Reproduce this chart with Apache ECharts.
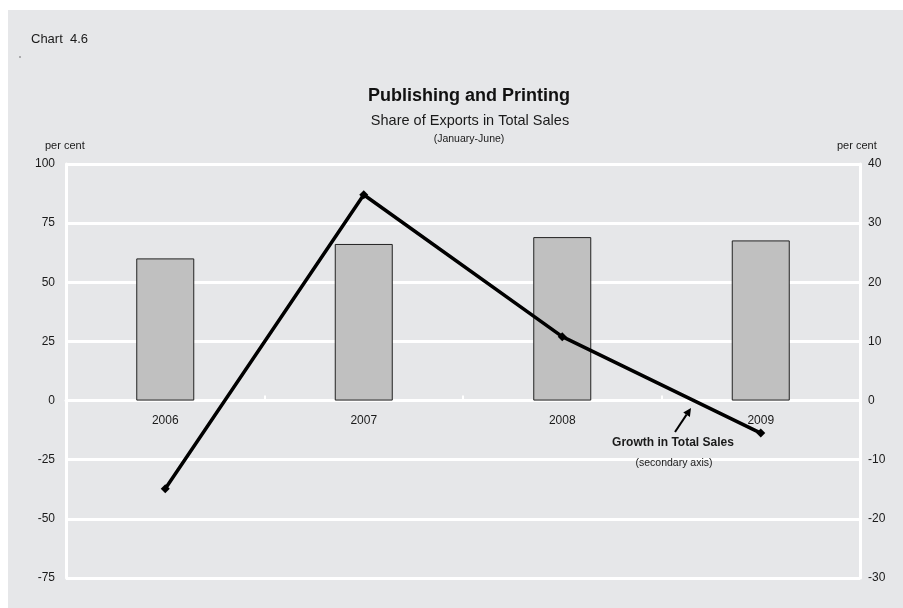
<!DOCTYPE html>
<html>
<head>
<meta charset="utf-8">
<style>
  html, body { margin: 0; padding: 0; background: #ffffff; }
  #chart { width: 903px; height: 608px; }
</style>
<script src="https://cdn.jsdelivr.net/npm/echarts@6/dist/echarts.min.js"></script>
</head>
<body>
<div id="chart"></div>
<script>
// Publishing and Printing: export share (bars, left axis) and sales growth (line, right axis)
const years = ['2006', '2007', '2008', '2009'];
const exportShare = [60.1, 66.2, 69.1, 67.7];      // per cent of total sales
const salesGrowth = [-14.9, 34.8, 10.8, -5.5];     // per cent, secondary axis
const leftTicks = { min: -75, max: 100, interval: 25 };
const rightTicks = { min: -30, max: 40, interval: 10 };

const FONT = '"Liberation Sans", Arial, sans-serif';
const TEXT = '#1a1a1a';
const PANEL = '#e6e7e9';

const W = 903, H = 608;
const GRID = { left: 66, right: 43, top: 164, bottom: 30 };
// the category axis sits on the left axis' zero line
const plotH = H - GRID.top - GRID.bottom;
const zeroFromBottom = plotH * (0 - leftTicks.min) / (leftTicks.max - leftTicks.min);

const chart = echarts.init(document.getElementById('chart'), null, { renderer: 'canvas' });

// arrow pointing from the note to the growth line
const tail = [675, 432], tip = [691, 408];
const dx = tip[0] - tail[0], dy = tip[1] - tail[1];
const len = Math.hypot(dx, dy), ux = dx / len, uy = dy / len;
const headLen = 8, headHalf = 4;
const base = [tip[0] - ux * headLen, tip[1] - uy * headLen];
const head = [tip, [base[0] - uy * headHalf, base[1] + ux * headHalf], [base[0] + uy * headHalf, base[1] - ux * headHalf]];

chart.setOption({
  backgroundColor: '#ffffff',
  animation: false,
  textStyle: { fontFamily: FONT },
  grid: Object.assign({ containLabel: false }, GRID),
  title: [
    { text: 'Chart  4.6', left: 26, top: 28, textStyle: { fontFamily: FONT, fontSize: 13, fontWeight: 'normal', color: TEXT } },
    { text: 'Publishing and Printing', left: 464, textAlign: 'center', top: 82, textStyle: { fontFamily: FONT, fontSize: 18, fontWeight: 'bold', color: '#111' } },
    { text: 'Share of Exports in Total Sales', left: 465, textAlign: 'center', top: 108, textStyle: { fontFamily: FONT, fontSize: 14.5, fontWeight: 'normal', color: TEXT } },
    { text: '(January-June)', left: 464, textAlign: 'center', top: 129, textStyle: { fontFamily: FONT, fontSize: 10.5, fontWeight: 'normal', color: TEXT } },
    { text: 'per cent', left: 40, top: 135, textStyle: { fontFamily: FONT, fontSize: 11, fontWeight: 'normal', color: TEXT } },
    { text: 'per cent', left: 832, top: 135, textStyle: { fontFamily: FONT, fontSize: 11, fontWeight: 'normal', color: TEXT } }
  ],
  graphic: [
    { type: 'rect', z: -10, silent: true, shape: { x: 8, y: 10, width: W - 8, height: H - 10 }, style: { fill: PANEL } },
    { type: 'circle', shape: { cx: 20, cy: 57, r: 0.7 }, style: { fill: '#444' } },
    { type: 'polyline', z: 10, shape: { points: [tail, base] }, style: { stroke: '#000', lineWidth: 2 } },
    { type: 'polygon', z: 10, shape: { points: head }, style: { fill: '#000' } },
    { type: 'text', z: 10, style: { text: 'Growth in Total Sales', x: 673, y: 443, textAlign: 'center', textVerticalAlign: 'middle', font: 'bold 12px ' + FONT, fill: TEXT } },
    { type: 'text', z: 10, style: { text: '(secondary axis)', x: 674, y: 463, textAlign: 'center', textVerticalAlign: 'middle', font: '10.5px ' + FONT, fill: TEXT } }
  ],
  xAxis: {
    type: 'category',
    data: years,
    position: 'bottom',
    offset: -zeroFromBottom,
    axisLine: { onZero: false, lineStyle: { color: '#ffffff', width: 3 } },
    axisTick: { show: true, inside: true, length: 5, lineStyle: { color: '#ffffff', width: 2 } },
    axisLabel: { color: TEXT, fontSize: 12, margin: 14, fontFamily: FONT },
    splitLine: { show: false }
  },
  yAxis: [
    {
      type: 'value', position: 'left',
      min: leftTicks.min, max: leftTicks.max, interval: leftTicks.interval,
      axisLine: { show: true, onZero: false, lineStyle: { color: '#ffffff', width: 3 } },
      axisTick: { show: false },
      axisLabel: { color: TEXT, fontSize: 12, margin: 11, fontFamily: FONT },
      splitLine: { show: true, lineStyle: { color: '#ffffff', width: 3 } }
    },
    {
      type: 'value', position: 'right',
      min: rightTicks.min, max: rightTicks.max, interval: rightTicks.interval,
      axisLine: { show: true, onZero: false, lineStyle: { color: '#ffffff', width: 3 } },
      axisTick: { show: false },
      axisLabel: { color: TEXT, fontSize: 12, margin: 8, fontFamily: FONT },
      splitLine: { show: false }
    }
  ],
  series: [
    {
      name: 'Share of Exports in Total Sales',
      type: 'bar',
      yAxisIndex: 0,
      data: exportShare,
      barWidth: 58,
      itemStyle: { color: '#c0c0c0', borderColor: '#222', borderWidth: 1 },
      z: 2
    },
    {
      name: 'Growth in Total Sales',
      type: 'line',
      yAxisIndex: 1,
      data: salesGrowth,
      symbol: 'diamond',
      symbolSize: 9,
      lineStyle: { color: '#000', width: 3.5 },
      itemStyle: { color: '#000' },
      z: 5
    }
  ]
});
</script>
</body>
</html>
